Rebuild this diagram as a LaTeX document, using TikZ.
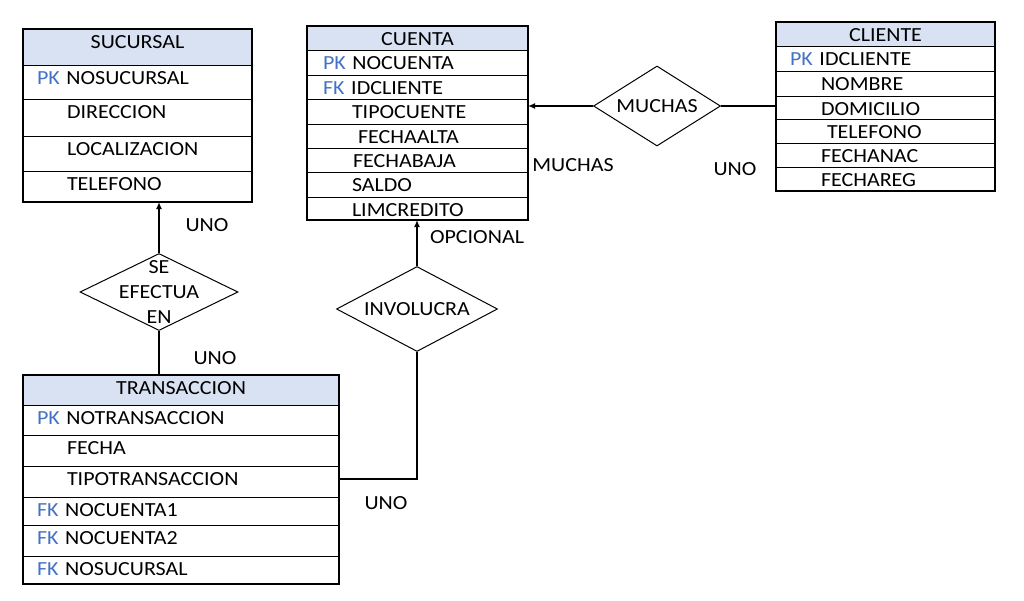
\documentclass[tikz,border=0pt]{standalone}
\usepackage{fontspec}
\setmainfont{Carlito}[FakeStretch=1.1]
\usetikzlibrary{shapes.geometric,arrows.meta}
\definecolor{cabeza}{RGB}{217,226,243}
\definecolor{azulpk}{RGB}{68,114,196}
\newcommand{\clave}[1]{\textcolor{azulpk}{#1}}

\begin{document}
\begin{tikzpicture}
  [x=1pt,y=-1pt,every node/.style={font=\fontsize{20}{25}\selectfont},
   fila/.style={draw,line width=1pt,anchor=north west,inner sep=0pt,outer sep=0pt,align=left,text height=19pt},
   cabecera/.style={fila,fill=cabeza,align=center},
   marco/.style={line width=2pt},
   rombo/.style={diamond,draw,line width=1pt,inner sep=0pt},
   linea/.style={line width=2pt},
   flecha/.style={linea,-{Latex[length=7pt,width=6pt]}}]
  \useasboundingbox (0,0) rectangle (1024,600);

  % SUCURSAL
  \node[cabecera,text width=229pt,text depth=17pt] (su0) at (23,29) {SUCURSAL};
  \foreach \n/\y/\alto/\dx/\txt [evaluate=\alto as \prof using \alto-19] in
    {1/65/34/14/\clave{PK} NOSUCURSAL,2/99/37/44/DIRECCION,3/136/35/44/LOCALIZACION,4/171/31/44/TELEFONO}
    \node[fila,text width=229pt,text depth=\prof pt] (su\n) at (23,\y) {\hspace*{\dx pt}\txt};
  \draw[marco] (su0.north west) rectangle (su4.south east);

  % CUENTA
  \node[cabecera,text width=221pt,text depth=5pt] (cu0) at (307,26) {CUENTA};
  \foreach \n/\y/\alto/\dx/\txt [evaluate=\alto as \prof using \alto-19] in
    {1/50/25/16/\clave{PK} NOCUENTA,2/75/24/16/\clave{FK} IDCLIENTE,3/99/25/45/TIPOCUENTE,
     4/124/24/51/FECHAALTA,5/148/24/46/FECHABAJA,6/172/25/45/SALDO,7/197/23/45/LIMCREDITO}
    \node[fila,text width=221pt,text depth=\prof pt] (cu\n) at (307,\y) {\hspace*{\dx pt}\txt};
  \draw[marco] (cu0.north west) rectangle (cu7.south east);

  % CLIENTE
  \node[cabecera,text width=219pt,text depth=5pt] (cl0) at (776,22) {CLIENTE};
  \foreach \n/\y/\alto/\dx/\txt [evaluate=\alto as \prof using \alto-19] in
    {1/46/25/14/\clave{PK} IDCLIENTE,2/71/25/45/NOMBRE,3/96/23/45/DOMICILIO,
     4/119/24/51/TELEFONO,5/143/24/45/FECHANAC,6/167/24/45/FECHAREG}
    \node[fila,text width=219pt,text depth=\prof pt] (cl\n) at (776,\y) {\hspace*{\dx pt}\txt};
  \draw[marco] (cl0.north west) rectangle (cl6.south east);

  % TRANSACCION
  \node[cabecera,text width=316pt,text depth=11pt] (tr0) at (23,375) {TRANSACCION};
  \foreach \n/\y/\alto/\dx/\txt [evaluate=\alto as \prof using \alto-19] in
    {1/405/30/14/\clave{PK} NOTRANSACCION,2/435/31/44/FECHA,3/466/31/44/TIPOTRANSACCION,
     4/497/28/14/\clave{FK} NOCUENTA1,5/525/31/14/\clave{FK} NOCUENTA2,6/556/28/14/\clave{FK} NOSUCURSAL}
    \node[fila,text width=316pt,text depth=\prof pt] (tr\n) at (23,\y) {\hspace*{\dx pt}\txt};
  \draw[marco] (tr0.north west) rectangle (tr6.south east);

  % relaciones
  \node[rombo,minimum width=158pt,minimum height=77pt,label={[align=center]center:SE\\EFECTUA\\EN}] (efect) at (159,292) {};
  \node[rombo,minimum width=161pt,minimum height=85pt,label=center:INVOLUCRA] (invol) at (417,309) {};
  \node[rombo,minimum width=127pt,minimum height=80pt,label=center:MUCHAS] (muchas) at (657,106) {};

  \node (uno1) at (207,225) {UNO};
  \node (uno2) at (215,358) {UNO};
  \node (opc) at (477,237) {OPCIONAL};
  \node (much) at (573,165) {MUCHAS};
  \node (uno3) at (735,169) {UNO};
  \node (uno4) at (386,503) {UNO};

  \draw[flecha] (efect.north) -- (efect.north |- su4.south);
  \draw[linea] (efect.south) -- (efect.south |- tr0.north);
  \draw[flecha] (invol.north) -- (invol.north |- cu7.south);
  \draw[linea] ([yshift=3pt]tr3.east) -| (invol.south);
  \draw[flecha] (muchas.west) -- (muchas.west -| cu3.east);
  \draw[linea] (muchas.east) -- (muchas.east -| cl3.west);
\end{tikzpicture}
\end{document}
